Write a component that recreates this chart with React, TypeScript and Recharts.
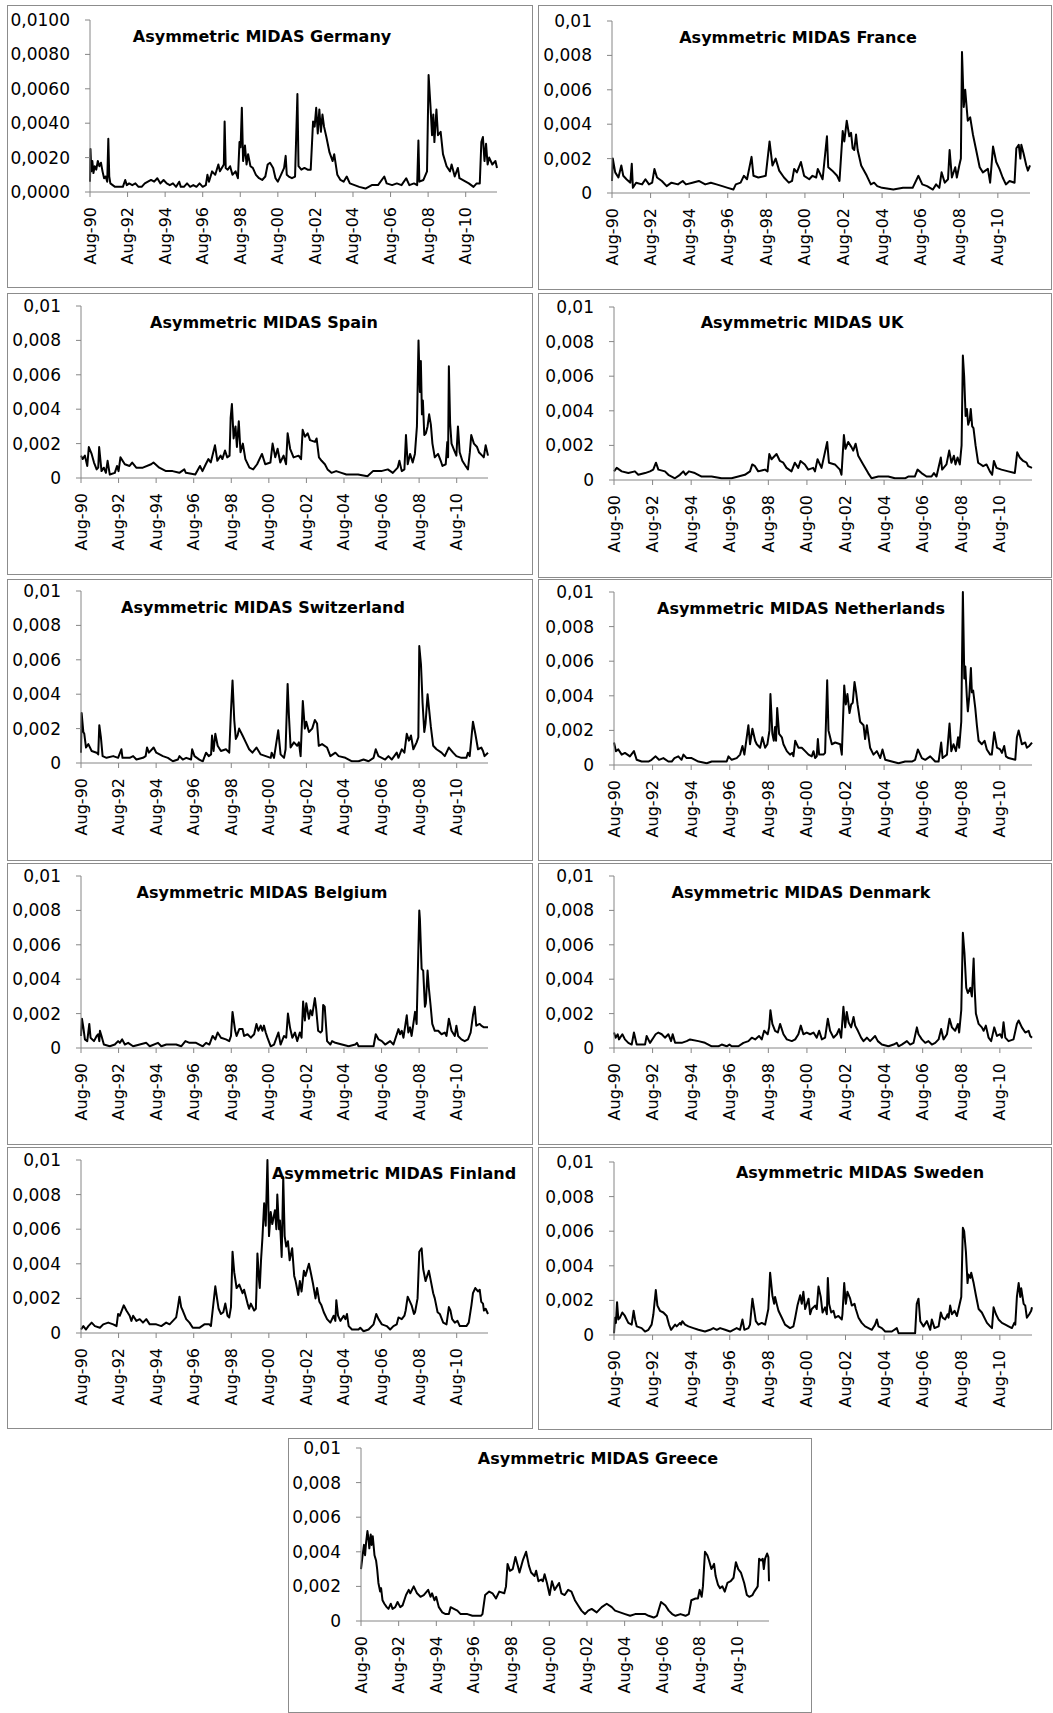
import React from "react";
import { LineChart, Line, XAxis, YAxis } from "recharts";

// months since Aug-90, value in thousandths
const germany: number[][] = [[0,0.6],[0.3,2.5],[0.8,1.2],[1.5,1.8],[2.2,1.1],[3,1.5],[4,1.3],[5,1.8],[6,1.5],[7,1.7],[8,1.2],[9,0.8],[10,0.9],[11,0.6],[11.7,3.1],[12.3,0.9],[13,0.5],[14.5,0.4],[16,0.3],[19,0.3],[21,0.3],[22.5,0.7],[23.5,0.4],[25,0.5],[27,0.4],[29,0.5],[31,0.3],[33,0.3],[35,0.5],[37,0.6],[39,0.7],[41,0.6],[43,0.8],[45,0.5],[47,0.7],[49,0.5],[51,0.4],[53,0.5],[55,0.3],[57,0.6],[58,0.3],[60,0.3],[62,0.5],[64,0.3],[66,0.4],[68,0.3],[70,0.5],[72,0.3],[74,0.4],[75,1.0],[76,0.6],[78,1.2],[80,1.0],[82,1.6],[83,1.2],[85.5,1.6],[86,4.1],[86.7,1.4],[88,1.3],[89.5,1.5],[91,1.0],[93,1.2],[94.5,0.8],[95.5,2.9],[96.2,2.6],[97,4.9],[97.8,1.8],[99,2.7],[100,1.6],[101,2.2],[102.5,1.5],[104,1.4],[106,1.0],[108,0.8],[110,0.7],[112,0.9],[113.5,1.6],[115,1.7],[117,1.4],[118.5,0.8],[120,0.6],[122,1.0],[124,1.4],[125,2.1],[125.7,1.0],[127,0.9],[129,0.8],[131,0.9],[132.5,5.7],[133.2,1.5],[135,1.3],[137,1.4],[139,1.3],[141,1.3],[142.5,4.1],[143.5,3.8],[144.5,4.9],[145.5,3.4],[146.5,4.8],[147.5,3.5],[148.5,4.5],[149.5,3.8],[151,3.2],[153,2.3],[155,1.8],[156,2.2],[158,1.0],[160,0.7],[162,0.6],[164,0.9],[166,0.5],[169,0.4],[172,0.3],[176,0.2],[180,0.4],[184,0.4],[188,0.9],[189.5,0.5],[193,0.4],[196,0.5],[199,0.4],[202,0.8],[204,0.4],[207,0.5],[209,0.4],[209.8,3.0],[210.4,0.6],[213,0.7],[215.3,1.2],[216.3,6.8],[217.5,5.0],[218.5,3.3],[219.3,4.5],[220,2.9],[221.3,4.8],[222.3,3.3],[224,3.5],[225.5,2.2],[227.8,1.5],[230,1.2],[231,1.6],[233,0.9],[235,1.4],[236,0.8],[240,0.6],[242,0.5],[245,0.3],[247,0.5],[249,0.5],[250,2.9],[251,3.2],[252,1.8],[253,2.8],[254,1.6],[255,2.0],[257,1.6],[259,1.8],[260,1.4]];

const france: number[][] = [[0,0.7],[0.5,2.0],[2,1.2],[4,0.9],[5.8,1.6],[7,1.0],[9,0.8],[11.4,0.6],[12.3,1.7],[13,0.3],[15,0.6],[18.7,0.5],[20.8,0.8],[23,0.5],[25,0.6],[26.4,1.4],[28,0.9],[31,0.7],[34,0.4],[37,0.6],[41,0.5],[44,0.7],[46,0.5],[50,0.6],[54,0.7],[58,0.5],[61.5,0.6],[65,0.5],[68.6,0.4],[72,0.3],[75.5,0.2],[77,0.5],[80,0.6],[82,1.0],[84,0.8],[86.8,2.1],[88,1.0],[91,0.9],[95.6,1.0],[98,3.0],[99.8,1.6],[101.8,2.0],[104,1.3],[107,0.9],[110,0.6],[112,0.7],[113.3,1.4],[115,1.2],[117.5,1.8],[119.5,1.0],[122.7,0.8],[124.7,1.0],[127,0.9],[128,1.4],[131,0.8],[133.7,3.3],[134.5,1.5],[137,1.3],[140,1.0],[141.5,0.7],[143.5,3.6],[144.5,3.0],[146,4.2],[147.6,3.3],[148.7,3.5],[149.7,2.6],[150.7,2.5],[151.8,3.4],[152.8,2.5],[155,1.6],[158.5,1.0],[161,0.5],[163,0.6],[165,0.4],[168,0.3],[175,0.2],[181,0.3],[187,0.3],[190.6,1.0],[193,0.5],[196,0.4],[199.6,0.2],[201.6,0.5],[203.6,0.3],[205,1.2],[207,0.6],[209,0.8],[210,2.5],[211.4,0.9],[213.5,1.5],[214.5,0.9],[216,1.6],[217,2.0],[217.7,8.2],[218.8,5.0],[219.7,6.0],[221.3,4.2],[222.8,4.4],[224.5,3.4],[226.5,2.5],[228.7,1.5],[230.7,1.2],[233.8,1.4],[235.2,0.6],[237,2.7],[239,1.8],[241,1.4],[243,0.9],[245,0.5],[247.3,0.7],[250.4,0.6],[251.5,2.6],[253,2.8],[254,2.0],[254.6,2.8],[256,2.3],[257.7,1.6],[258.7,1.3],[260,1.6]];

const spain: number[][] = [[0,1.3],[1,1.1],[2.5,1.3],[4,0.7],[5,1.8],[6.8,1.4],[8.3,0.9],[10,0.5],[11,0.6],[11.6,1.8],[13.1,0.4],[14.6,0.6],[15.9,0.3],[17,1.0],[18.4,0.2],[21.6,0.3],[23,0.7],[24,0.4],[25.2,1.2],[28,0.8],[31,0.7],[32.7,0.9],[35.3,0.6],[39.5,0.6],[44.8,0.8],[46.3,0.9],[50,0.6],[54.3,0.4],[58.5,0.4],[62.8,0.3],[66,0.5],[67,0.3],[73,0.2],[76,0.7],[77.6,0.4],[79.7,0.8],[81.4,1.1],[82.9,0.9],[85.6,1.9],[87.1,1.0],[89.2,1.3],[90.3,1.1],[92,1.6],[93.4,1.2],[94.9,1.3],[95.6,3.5],[96.4,4.3],[97.5,2.3],[98.7,3.0],[99.6,1.8],[100.8,3.3],[101.9,1.5],[103.4,2.0],[105,1.1],[107.6,0.6],[110,0.5],[112.5,0.8],[115.6,1.4],[117.7,0.8],[121,0.9],[122.4,2.0],[124.1,1.2],[125.6,1.7],[127.3,0.9],[129.4,1.3],[131,0.8],[132,2.6],[133.6,1.7],[135.8,1.2],[139,1.3],[140.6,1.1],[141.6,2.8],[143.1,2.4],[144.8,2.6],[146.3,2.2],[149.5,2.1],[150.5,2.3],[152,1.2],[153.7,1.0],[155.8,0.8],[157.5,0.5],[160,0.3],[163,0.4],[166.4,0.3],[169.5,0.2],[177,0.2],[183,0.1],[186.5,0.4],[191.8,0.4],[196,0.5],[199.2,0.3],[202.3,0.6],[203.4,1.0],[204.9,0.4],[206.6,0.5],[207.6,2.5],[208.7,0.8],[210.2,1.4],[211.9,0.9],[213.3,1.4],[214.6,3.0],[215.6,8.0],[216.5,5.0],[217.1,6.8],[217.8,3.7],[218.4,4.5],[219.3,2.5],[220.3,2.6],[221.4,3.0],[222.4,3.7],[223.5,3.1],[224.5,2.0],[226,1.2],[228.1,1.4],[229.8,1.0],[230.9,0.7],[233,0.8],[234,2.1],[234.5,1.2],[235,6.5],[235.8,3.2],[236.7,2.0],[238.4,1.6],[239.8,1.3],[240.8,3.0],[241.9,1.5],[243.6,1.0],[245.7,0.7],[247.2,0.5],[248.4,1.5],[249.3,2.5],[251,2.0],[253,1.8],[254.2,1.5],[256.3,1.3],[257.3,1.2],[258.5,1.9],[260,1.3]];

const uk: number[][] = [[0,0.5],[1.7,0.7],[4.8,0.5],[8.9,0.4],[13,0.5],[15.1,0.3],[19.3,0.4],[22.4,0.5],[24.4,0.6],[26.1,1.0],[27.6,0.6],[31.7,0.5],[33.8,0.3],[37.9,0.1],[41,0.3],[43.1,0.5],[44.5,0.3],[46.6,0.5],[50.3,0.4],[54.5,0.2],[60.7,0.2],[66.9,0.1],[73.1,0.1],[77.3,0.2],[81.4,0.3],[84.6,0.5],[86,0.9],[87.7,0.8],[89.7,0.5],[93.9,0.6],[95.5,0.5],[96.6,1.5],[98,1.2],[101.1,1.5],[103.2,1.1],[105.3,1.0],[107.3,0.7],[110.4,0.5],[112.5,1.0],[114.6,0.7],[116,1.1],[118.7,0.9],[120.8,0.6],[123.9,0.7],[125,0.5],[126.6,1.2],[129.1,0.7],[132.6,2.2],[133.7,1.0],[137.4,0.9],[140.5,0.6],[141.5,0.3],[143,2.6],[144,1.8],[145.7,2.2],[147.7,1.9],[148.8,1.7],[150.3,2.1],[151.9,1.4],[155,0.9],[158.1,0.4],[160.2,0.1],[164.4,0.2],[170.6,0.2],[174.7,0.1],[181,0.1],[183,0.2],[187.1,0.2],[188.8,0.6],[191.3,0.4],[194.4,0.2],[197.5,0.2],[199,0.4],[200.6,0.2],[203.3,1.3],[204.1,0.6],[206.8,0.9],[208.5,1.7],[209.9,1.0],[211.4,1.4],[212.4,0.9],[213.7,1.3],[215.1,0.9],[216.2,2.0],[217,7.2],[217.8,6.0],[218.7,3.7],[219.5,4.1],[220.3,3.2],[221.3,3.5],[221.9,4.1],[222.8,3.1],[223.6,3.0],[224.9,2.0],[226.5,1.0],[229.6,0.8],[231.7,0.9],[233.8,0.5],[235.2,0.3],[236.3,1.1],[237.9,0.7],[241,0.6],[245.2,0.5],[249.3,0.4],[250.8,1.6],[252.4,1.3],[254.5,1.1],[256.6,1.0],[257.6,0.8],[260,0.7]];

const switzerland: number[][] = [[0,0.6],[0.4,2.9],[1.5,1.8],[2.1,1.7],[3.2,0.9],[4.7,1.1],[6.8,0.7],[10,0.6],[11,0.5],[11.7,2.2],[12.7,1.5],[13.8,0.4],[16.3,0.3],[20.6,0.4],[23.7,0.3],[25.8,0.8],[26.5,0.3],[31.1,0.3],[33.3,0.4],[35.4,0.2],[39.6,0.3],[41.3,0.4],[42.2,0.9],[43.4,0.6],[46.4,0.9],[48.1,0.6],[52.3,0.4],[55.5,0.3],[58.7,0.1],[61.9,0.2],[62.9,0.4],[65,0.2],[67.2,0.3],[70.3,0.2],[71,0.8],[72.5,0.4],[75.6,0.2],[77.8,0.1],[79.9,0.6],[81.6,0.4],[83.1,0.5],[83.7,1.6],[84.7,0.7],[85.8,1.7],[87.3,1.0],[89.4,0.7],[92.6,0.8],[94.7,0.6],[95.8,3.0],[96.8,4.8],[97.9,2.5],[98.9,1.4],[100,1.6],[101,2.0],[103.2,1.6],[105.3,1.2],[107.4,0.8],[109.5,0.6],[112.1,0.9],[114.8,0.5],[118,0.4],[121.2,0.3],[121.8,0.6],[123.3,0.3],[126,1.9],[127.5,0.5],[129.7,0.3],[130.7,0.8],[132,4.6],[132.8,2.8],[133.9,0.9],[136,1.2],[138.1,1.0],[139.2,1.2],[140.3,0.4],[141.7,3.6],[143,2.0],[143.9,2.4],[145.6,1.8],[147.7,2.0],[149.4,2.5],[150.8,2.3],[151.9,1.0],[154,1.1],[157.2,0.9],[159.3,0.4],[162.5,0.6],[164.6,0.4],[168.9,0.3],[173.1,0.1],[177.3,0.1],[180.5,0.2],[183.7,0.1],[186.9,0.3],[188.3,0.8],[190,0.4],[194.3,0.2],[196.4,0.4],[198.5,0.2],[201.7,0.6],[202.8,0.3],[204.9,0.8],[206.6,0.6],[208.1,1.7],[209.5,1.3],[210.8,1.6],[212.3,0.8],[214.4,1.2],[215.5,1.5],[216.1,6.8],[217.2,5.7],[218.2,3.5],[219.3,1.8],[220.1,2.3],[221.4,4.0],[222.5,3.0],[223.5,2.1],[225,1.0],[227.1,0.8],[230.3,0.6],[232.4,0.4],[235,0.9],[237.7,0.6],[239.8,0.4],[243,0.3],[246.2,0.3],[247.2,0.6],[248.3,0.4],[250.4,2.4],[251.9,1.7],[253.6,0.8],[255.7,0.9],[256.8,0.7],[257.8,0.4],[260,0.6]];

const netherlands: number[][] = [[0,1.3],[1.2,0.8],[2.7,0.9],[4.8,0.6],[6.8,0.7],[9.9,0.5],[12.4,0.8],[14.1,0.3],[17.2,0.2],[21.4,0.2],[23.4,0.3],[25.9,0.5],[28,0.3],[30.7,0.4],[33.8,0.2],[35.9,0.2],[37.6,0.4],[40,0.5],[42,0.3],[43.2,0.6],[45.2,0.4],[48.3,0.4],[52.5,0.2],[57.7,0.1],[60.8,0.2],[67,0.2],[70.1,0.2],[71.2,0.5],[73.2,0.3],[76.3,0.4],[78.4,0.6],[79.9,1.1],[81.1,0.6],[83.6,2.3],[84.6,1.2],[86.1,2.1],[87.8,1.4],[88.8,1.2],[90.9,1.0],[92.3,1.6],[94,1.0],[95.4,1.2],[96.7,2.0],[97.3,4.1],[98.5,1.8],[99.4,1.4],[100.2,2.2],[100.8,1.4],[101.5,3.3],[102.7,1.8],[104.4,1.6],[105.4,1.2],[107.5,0.8],[109.5,0.6],[111,0.7],[111.6,0.5],[112.7,1.4],[114.7,1.0],[116.8,1.0],[118.9,0.8],[121,0.6],[123,0.5],[124.1,0.8],[125.1,0.4],[126.1,0.5],[126.8,1.5],[127.6,0.6],[130.3,0.6],[131.3,0.7],[132.6,4.9],[133.4,2.0],[135.5,1.2],[137.6,1.3],[140.7,1.2],[141.7,0.6],[143.2,4.6],[144.2,3.5],[145.2,4.1],[146.5,3.0],[147.5,3.5],[148.5,3.6],[149.6,4.8],[150.6,4.2],[151.5,3.5],[153.1,2.5],[155.2,2.3],[156.2,1.5],[157.3,2.3],[159.3,1.0],[161.4,0.6],[163.5,0.8],[165.6,0.4],[167,0.9],[168.7,0.3],[172.8,0.2],[177,0.1],[181.1,0.2],[185.3,0.2],[187.3,0.3],[189,0.9],[191.5,0.4],[193.6,0.3],[196.7,0.5],[199.8,0.2],[201.9,0.2],[203.5,1.3],[204.4,0.4],[207.1,0.6],[208.7,2.4],[209.8,0.8],[211.2,1.2],[212.7,0.8],[214,1.6],[214.7,1.0],[216,2.5],[217,10.0],[217.9,5.0],[218.5,5.7],[219.5,3.9],[220.1,3.1],[221,4.0],[222,5.6],[222.6,4.2],[223.4,4.3],[224.7,3.3],[225.7,2.3],[226.8,1.4],[228.8,1.2],[230.5,1.4],[231.9,0.9],[234,0.6],[235,0.6],[236.5,1.9],[238.2,1.0],[240.2,0.9],[241.3,0.7],[242.7,1.1],[243.8,0.5],[245.4,0.4],[249.6,0.3],[250.6,1.6],[251.7,2.0],[253.7,1.2],[255.8,1.3],[256.8,1.0],[258.3,1.1],[260,1.3]];

const belgium: number[][] = [[0,0.7],[0.6,1.7],[1.5,1.2],[2.5,0.5],[4,0.4],[5.3,1.4],[6.1,0.6],[8.3,0.4],[10,0.7],[11,0.8],[11.7,0.4],[12.1,1.0],[13.1,0.7],[14.6,0.2],[18.4,0.1],[21.6,0.2],[23.7,0.4],[24.8,0.3],[26.3,0.5],[28,0.2],[30.1,0.3],[33.3,0.1],[37.5,0.2],[41.7,0.3],[43.9,0.1],[49.2,0.3],[51.3,0.1],[54.5,0.2],[60.8,0.2],[64,0.1],[66.7,0.4],[69.3,0.3],[73.5,0.3],[75.6,0.2],[77.8,0.1],[79.9,0.3],[82,0.2],[84.1,0.7],[85.8,0.5],[87.3,0.9],[89.4,0.6],[92.6,0.5],[94.7,0.4],[95.8,0.7],[96.8,2.1],[98.5,1.0],[99.4,0.7],[101.1,1.1],[103.2,1.1],[104.2,0.7],[106.4,0.8],[108.5,0.6],[110.6,0.8],[112.1,1.4],[113.3,1.0],[114.8,1.3],[115.9,1.0],[116.9,1.3],[118,0.9],[119.1,0.6],[121.2,0.1],[123.3,0.2],[126.1,0.9],[127.5,0.2],[129.7,0.7],[131.1,0.6],[132.2,2.0],[133.5,1.2],[135,0.6],[136.7,0.9],[138.1,0.4],[139.8,0.9],[140.9,0.6],[141.9,2.7],[143,1.6],[143.9,2.6],[145.6,1.7],[146.6,2.2],[147.7,1.9],[149.4,2.9],[150.2,2.3],[151.5,1.0],[153,0.9],[154,1.0],[154.7,2.5],[155.7,2.4],[157.2,0.4],[159.3,0.2],[160.4,0.4],[162.5,0.3],[166.7,0.2],[171,0.1],[175.2,0.2],[176.3,0.3],[177.3,0.1],[183.7,0.1],[186.9,0.1],[188.3,0.8],[190.1,0.5],[192.2,0.4],[194.3,0.2],[197.5,0.4],[199.6,0.2],[202.8,1.1],[203.8,0.8],[204.9,1.0],[206,0.6],[208.1,1.9],[209.1,0.9],[210.2,1.2],[211.2,0.7],[213.4,2.1],[214.4,1.4],[216.1,8.0],[216.5,7.5],[217.6,4.6],[218.6,4.5],[219.7,2.4],[220.3,2.6],[221.4,4.5],[222.2,3.5],[223.3,2.5],[224.4,1.4],[226,1.0],[228.2,1.0],[230.3,0.8],[232.4,0.9],[233.5,0.7],[235,1.7],[236.7,1.0],[238.8,0.7],[239.8,1.3],[240.9,0.7],[243,0.5],[245.1,0.4],[247.2,0.5],[248.9,0.9],[250.4,1.9],[251.5,2.4],[252.5,1.3],[254.7,1.4],[255.7,1.3],[257.4,1.2],[260,1.2]];

const denmark: number[][] = [[0,0.9],[1,0.6],[2.3,0.8],[3.1,0.5],[5.2,0.8],[6.8,0.5],[8.9,0.3],[11,0.2],[12.4,0.9],[14.1,0.2],[17.2,0.2],[19.3,0.2],[20.3,0.7],[22.4,0.3],[24.5,0.6],[25.9,0.8],[27.6,0.9],[29.7,0.8],[31.7,0.6],[33.8,0.8],[35.5,0.4],[36.5,0.8],[38,0.3],[42.1,0.3],[45.2,0.4],[47.3,0.5],[52.5,0.4],[56.6,0.3],[60.8,0.1],[64.9,0.1],[67,0.2],[70.1,0.1],[71.8,0.2],[73.2,0.1],[77.4,0.1],[80.5,0.3],[83.6,0.4],[85.7,0.6],[87.8,0.5],[90.2,0.7],[91.9,0.5],[93.4,1.0],[95.6,0.8],[96.5,1.2],[97.3,2.2],[98.5,1.4],[100.2,1.0],[101.9,0.9],[103.3,1.4],[105.4,0.8],[107.5,0.5],[110.6,0.4],[112.7,0.5],[114.7,0.8],[116.2,1.3],[117.8,0.8],[119.9,0.9],[122,0.8],[124.1,0.9],[126.1,0.6],[127.6,1.0],[129.3,0.5],[131.3,0.6],[133,1.7],[134.4,1.0],[136.5,0.6],[138.6,0.8],[140,1.1],[141.3,0.6],[142.7,2.4],[143.8,1.2],[144.8,2.1],[145.9,1.5],[147.5,1.2],[149,1.8],[150,1.3],[151.7,1.0],[153.7,0.6],[155.2,0.4],[157.3,0.6],[159.3,0.4],[162.4,0.7],[164.1,0.4],[166.6,0.2],[170.7,0.1],[173.9,0.2],[175.9,0.3],[177,0.1],[179,0.2],[182.2,0.4],[184.2,0.2],[186.3,0.3],[188.4,1.2],[189.4,0.8],[191.5,0.5],[193.6,0.3],[195.6,0.4],[197.7,0.2],[199.8,0.3],[201.9,0.5],[203.5,1.1],[205,0.5],[207.1,0.8],[208.7,1.7],[210.2,1.2],[212.2,1.0],[213.9,1.4],[214.7,0.9],[216,2.2],[217,6.7],[218,5.5],[219.1,3.5],[220.1,3.2],[221.6,3.5],[222.6,3.0],[223.7,5.2],[224.3,3.5],[225.1,2.0],[226.8,1.4],[228.8,1.2],[229.9,1.0],[231.3,1.3],[233,0.6],[234.6,0.4],[236.5,1.2],[238.2,0.7],[240.2,0.8],[241.3,0.6],[242.3,1.5],[243.4,0.6],[245.4,0.4],[248.5,0.5],[250.6,1.4],[251.7,1.6],[253.7,1.2],[255.8,0.9],[257.9,1.0],[258.9,0.7],[260,0.6]];

const finland: number[][] = [[0,0.2],[1.5,0.4],[3.2,0.2],[4.7,0.4],[6.8,0.6],[8.9,0.4],[12.1,0.3],[14.2,0.5],[17.4,0.6],[20.6,0.5],[22.7,0.4],[23.7,1.1],[24.8,1.0],[27.3,1.6],[29,1.3],[31.1,1.0],[32.2,0.7],[33.3,1.0],[35.4,0.7],[37.5,0.8],[39.6,0.6],[41.7,0.8],[43.9,0.5],[48.1,0.5],[51.3,0.4],[54.4,0.6],[56.6,0.5],[58.7,0.7],[60.8,0.9],[61.9,1.5],[62.9,2.1],[64,1.5],[65,1.3],[67.2,0.8],[69.3,0.6],[71.4,0.3],[75.6,0.3],[78.8,0.5],[82,0.5],[83,0.4],[85.8,2.7],[86.9,2.0],[87.9,1.4],[89.4,1.1],[90.9,1.2],[92.2,1.7],[93.6,1.0],[94.7,0.9],[95.8,1.5],[96.8,4.7],[97.9,3.5],[99.4,2.6],[101.1,2.8],[103.2,2.3],[104.2,2.5],[106.4,1.7],[107.4,1.4],[108.5,1.7],[110.6,1.3],[111.7,1.4],[112.1,2.5],[112.7,4.6],[113.8,3.0],[114.2,2.6],[115,4.2],[115.9,5.5],[117,7.5],[118,6.2],[119.1,10.0],[120.1,5.6],[121.2,7.0],[122.2,6.3],[123.9,7.1],[124.8,6.0],[125.4,8.0],[126.5,6.0],[127.1,6.5],[128.2,4.4],[129.2,9.0],[130.1,5.6],[131.1,5.0],[132.2,5.3],[133.3,4.2],[134.9,4.9],[136.2,3.3],[137.1,3.0],[138.8,2.2],[139.8,3.0],[140.9,2.4],[142.4,3.6],[143.4,3.3],[145.6,4.0],[147,3.4],[148.3,2.8],[149.8,2.0],[150.8,2.6],[152.3,1.8],[153.6,1.6],[155.1,1.2],[157.2,0.8],[159.3,0.6],[161.4,1.0],[162.5,0.7],[163.1,1.9],[164.2,1.0],[165.7,0.7],[167.8,1.0],[168.9,0.8],[169.9,1.1],[171,0.4],[173.1,0.2],[177.3,0.2],[178.4,0.3],[180.5,0.1],[183.7,0.2],[186.9,0.5],[188.6,1.1],[190.1,0.8],[192.2,0.5],[195.3,0.4],[197.5,0.2],[199.6,0.4],[201.7,0.5],[202.8,0.9],[204.9,0.8],[206.6,1.0],[207.4,1.3],[208.7,2.1],[210.2,1.8],[211.2,1.6],[212.7,1.1],[213.4,1.2],[215,2.0],[216.1,4.7],[217.6,4.9],[218.6,3.7],[220.1,3.0],[222.2,3.6],[223.3,3.1],[225,2.3],[226,2.0],[227.8,1.2],[229.2,1.1],[231.4,0.6],[233.5,0.5],[235,1.5],[236,1.3],[237.1,0.8],[238.8,0.6],[240.5,0.7],[242,0.4],[246.2,0.4],[247.7,0.6],[249.4,1.6],[250.4,2.3],[251.9,2.6],[253.6,2.4],[254.7,2.5],[255.7,1.8],[256.8,1.7],[257.4,1.3],[258.5,1.4],[260,1.1]];

const sweden: number[][] = [[0,0.1],[0.6,1.0],[1.2,0.7],[1.9,1.9],[2.7,0.9],[3.7,1.0],[5.2,1.3],[6.8,1.1],[8.9,0.7],[11,0.6],[12.2,1.4],[13.1,0.9],[14.1,0.5],[17.2,0.4],[19.3,0.2],[21.4,0.3],[23.4,0.6],[24.5,1.2],[26,2.6],[27,1.7],[28.6,1.4],[30.7,1.3],[32.8,1.1],[34.2,0.6],[35.5,0.3],[38,0.6],[39,0.5],[41.1,0.7],[41.7,0.6],[42.5,0.8],[44.2,0.6],[46.3,0.5],[49.4,0.4],[52.5,0.3],[56.6,0.2],[59.8,0.3],[61.8,0.4],[63.9,0.3],[66,0.4],[69.1,0.3],[72.2,0.2],[76.3,0.4],[78.4,0.3],[79.9,0.9],[81.1,0.3],[83.6,0.4],[84.6,0.6],[86.1,2.1],[87.1,1.5],[88.2,0.8],[89.8,0.6],[91.9,0.7],[94,0.6],[96,1.5],[97.1,3.6],[98.5,2.3],[99.6,1.8],[100.2,2.2],[101.2,1.8],[102.3,1.4],[104.4,1.0],[106.4,0.6],[109.5,0.4],[111.6,0.5],[112.7,1.0],[114.1,1.7],[115.8,2.3],[116.8,1.8],[117.8,2.5],[118.9,1.5],[121,2.1],[122,1.2],[123,1.5],[125.1,1.7],[126.1,1.5],[127.2,2.8],[128.6,2.2],[129.7,1.3],[131.3,1.6],[132.4,1.2],[133,3.3],[133.8,1.8],[135.1,1.3],[136.5,1.4],[137.6,1.0],[139.6,1.1],[141.7,0.9],[142.1,1.2],[143.2,3.0],[144.2,1.8],[145.2,2.5],[146.9,2.1],[147.9,1.7],[149.6,1.8],[150.4,1.5],[152.1,1.0],[154.1,0.7],[156.2,0.5],[158.3,0.4],[160.4,0.3],[162.4,0.6],[163.5,0.9],[164.5,0.5],[166.6,0.4],[168.7,0.2],[172.8,0.2],[175.9,0.4],[177,0.1],[181.1,0.1],[187.3,0.1],[188.3,1.8],[189.4,2.1],[190.5,0.8],[192.5,0.5],[194.6,0.8],[196.7,0.3],[197.7,0.9],[199.4,0.4],[201.9,0.5],[203.3,1.3],[204.4,1.0],[206,0.9],[207.5,1.2],[208.1,1.0],[209.1,1.7],[210.2,1.2],[211.8,1.4],[213.3,1.1],[214.3,1.5],[216,2.2],[217,6.2],[217.8,6.0],[218.9,4.8],[219.9,3.0],[220.5,3.5],[221.6,3.3],[222.2,3.6],[223.7,3.0],[225.1,2.3],[226.8,1.5],[228.8,1.3],[230.9,0.9],[232,0.7],[234,0.5],[235.1,0.4],[236.1,1.6],[237.6,1.2],[239.2,0.9],[241.3,0.7],[243.4,0.6],[245.4,0.5],[247.5,0.4],[249,0.7],[249.6,0.6],[250.6,2.2],[251.7,3.0],[252.7,2.2],[253.3,2.7],[254.8,1.8],[255.8,1.7],[256.8,1.0],[258.3,1.2],[259.5,1.4],[260,1.6]];

const greece: number[][] = [[0,3.0],[0.9,3.7],[1.9,4.4],[2.6,3.8],[3.2,4.5],[4.1,5.2],[4.7,4.8],[5.3,4.2],[6.2,5.0],[6.8,4.4],[7.5,4.9],[8.6,3.8],[9.6,3.5],[10.3,3.0],[11.1,2.2],[12.2,1.7],[12.8,1.9],[13.7,1.2],[14.9,1.0],[16.4,0.8],[17.5,0.7],[19,1.0],[20.1,0.7],[21.8,0.8],[23.3,1.1],[25,0.8],[26.5,0.9],[28.7,1.5],[30.4,1.8],[31.4,1.6],[33.6,2.0],[35.7,1.6],[37.9,1.4],[40,1.5],[42.8,1.8],[44.3,1.4],[45.3,1.6],[46.8,1.2],[47.9,1.4],[49.6,0.8],[51.8,0.5],[53.9,0.4],[56,0.4],[57.1,0.8],[59.2,0.7],[61.4,0.6],[63.5,0.4],[67.8,0.4],[71,0.3],[76.4,0.3],[77.4,0.4],[79.1,1.5],[81.7,1.7],[83.8,1.6],[86,1.3],[88.1,1.7],[91.3,1.6],[92.4,2.0],[93.4,3.3],[94.9,2.9],[96.7,3.0],[98.4,3.7],[99.9,3.2],[101,2.8],[103.1,3.5],[105.2,4.0],[107,3.2],[108.4,2.8],[110.6,2.6],[111.6,2.9],[113.1,2.3],[114.9,2.4],[115.9,2.3],[117,2.7],[118.5,2.2],[120.2,1.5],[121.7,2.3],[123.4,1.8],[126.2,2.2],[127.7,1.6],[129.8,1.5],[132,1.8],[134.1,1.7],[136.3,1.2],[138.4,0.9],[140.5,0.6],[142.7,0.4],[144.8,0.6],[147,0.7],[150.2,0.5],[153.4,0.8],[156.6,1.0],[159.8,0.8],[161.9,0.6],[165.1,0.5],[168.3,0.4],[171.5,0.3],[174.7,0.4],[177.9,0.4],[181.2,0.4],[183.3,0.3],[186.5,0.2],[188.6,0.3],[191.2,1.1],[194,0.9],[196.1,0.6],[198.3,0.4],[200.4,0.3],[203.6,0.4],[206.8,0.3],[208.9,0.4],[210.5,1.2],[213.2,1.3],[214.7,1.3],[215.8,1.8],[217.1,1.4],[217.9,2.0],[219.2,4.0],[220.7,3.8],[221.8,3.5],[223.3,3.0],[225,3.3],[226,2.6],[227.5,2.1],[228.8,1.9],[230.3,2.0],[231.8,1.7],[233.5,2.2],[235.6,2.3],[237.4,2.5],[238.9,3.4],[240.4,3.0],[242.1,2.8],[244.2,2.2],[245.9,1.5],[247.4,1.4],[249.5,1.5],[250.6,1.7],[252.1,1.9],[252.8,2.0],[253.7,3.6],[254.9,3.5],[256,3.6],[256.7,3.0],[257.5,3.6],[258.8,3.9],[259.6,3.7],[260,2.3]];

const xTicks = [0, 24, 48, 72, 96, 120, 144, 168, 192, 216, 240];
const xTickLabels = ["Aug-90", "Aug-92", "Aug-94", "Aug-96", "Aug-98", "Aug-00", "Aug-02", "Aug-04", "Aug-06", "Aug-08", "Aug-10"];
const yTicks = [0, 0.002, 0.004, 0.006, 0.008, 0.01];

interface IPanel {
  title: string;
  data: number[][];
  box: number[]; // left, top, width, height
  plot: number[]; // x0, y0, x1, y1
  titleAt: number[];
  fourDecimals?: boolean;
}

const panels: IPanel[] = [
  { title: "Asymmetric MIDAS Germany", data: germany, box: [7, 5, 526, 283], plot: [90, 20, 497, 192], titleAt: [262, 37], fourDecimals: true },
  { title: "Asymmetric MIDAS France", data: france, box: [538, 5, 514, 285], plot: [612, 21, 1030, 193], titleAt: [798, 38] },
  { title: "Asymmetric MIDAS Spain", data: spain, box: [7, 293, 526, 282], plot: [81, 306, 488, 478], titleAt: [264, 323] },
  { title: "Asymmetric MIDAS UK", data: uk, box: [538, 293, 514, 285], plot: [614, 307, 1032, 480], titleAt: [802, 323] },
  { title: "Asymmetric MIDAS Switzerland", data: switzerland, box: [7, 579, 526, 282], plot: [81, 591, 488, 763], titleAt: [263, 608] },
  { title: "Asymmetric MIDAS Netherlands", data: netherlands, box: [538, 579, 514, 282], plot: [614, 592, 1032, 765], titleAt: [801, 609] },
  { title: "Asymmetric MIDAS Belgium", data: belgium, box: [7, 863, 526, 282], plot: [81, 876, 488, 1048], titleAt: [262, 893] },
  { title: "Asymmetric MIDAS Denmark", data: denmark, box: [538, 863, 514, 282], plot: [614, 876, 1032, 1048], titleAt: [801, 893] },
  { title: "Asymmetric MIDAS Finland", data: finland, box: [7, 1147, 526, 282], plot: [81, 1160, 488, 1333], titleAt: [394, 1174] },
  { title: "Asymmetric MIDAS Sweden", data: sweden, box: [538, 1147, 514, 283], plot: [614, 1162, 1032, 1335], titleAt: [860, 1173] },
  { title: "Asymmetric MIDAS Greece", data: greece, box: [288, 1438, 524, 275], plot: [361, 1448, 769, 1621], titleAt: [598, 1459] },
];

const AXIS_GREY = "#868686";
const FONT = "'DejaVu Sans', sans-serif";

const DateTick = (props: any) => {
  const { x, y, payload } = props;
  return (
    <text
      x={x}
      y={y}
      transform={`rotate(-90, ${x}, ${y})`}
      textAnchor="end"
      dominantBaseline="central"
      fontSize={16}
      fontFamily={FONT}
      fill="#000"
    >
      {xTickLabels[xTicks.indexOf(payload.value)]}
    </text>
  );
};

const formatValue = (four?: boolean) => (v: number) => {
  if (four) return v.toFixed(4).replace(".", ",");
  if (v === 0) return "0";
  return String(Number(v.toFixed(3))).replace(".", ",");
};

const Panel = ({ p }: { p: IPanel }) => {
  const [left, top, w, h] = p.box;
  const [x0, y0, x1, y1] = p.plot;
  const rows = p.data.map(([t, v]) => ({ t, v: v / 1000 }));
  return (
    <>
      <div
        style={{
          position: "absolute",
          left,
          top,
          width: w - 2,
          height: h - 2,
          border: "1px solid #8c8c8c",
        }}
      />
      <div style={{ position: "absolute", left, top }}>
        <LineChart
          width={w}
          height={h}
          data={rows}
          margin={{ top: y0 - top, right: left + w - x1, bottom: 0, left: 0 }}
        >
          <XAxis
            type="number"
            dataKey="t"
            domain={[0, 260]}
            ticks={xTicks}
            interval={0}
            height={top + h - y1}
            tickSize={5}
            tickMargin={10}
            axisLine={{ stroke: AXIS_GREY }}
            tickLine={{ stroke: AXIS_GREY }}
            tick={<DateTick />}
          />
          <YAxis
            type="number"
            domain={[0, 0.01]}
            ticks={yTicks}
            interval={0}
            width={x0 - left}
            tickSize={5}
            tickMargin={15}
            axisLine={{ stroke: AXIS_GREY }}
            tickLine={{ stroke: AXIS_GREY }}
            tick={{ fontSize: 17, fontFamily: FONT, fill: "#000" }}
            tickFormatter={formatValue(p.fourDecimals)}
          />
          <Line
            type="linear"
            dataKey="v"
            stroke="#000"
            strokeWidth={2}
            strokeLinejoin="round"
            dot={false}
            isAnimationActive={false}
          />
        </LineChart>
      </div>
      <div
        style={{
          position: "absolute",
          left: p.titleAt[0] - 200,
          top: p.titleAt[1] - 10,
          width: 400,
          lineHeight: "20px",
          textAlign: "center",
          fontFamily: FONT,
          fontWeight: "bold",
          fontSize: 16,
          color: "#000",
          whiteSpace: "nowrap",
        }}
      >
        {p.title}
      </div>
    </>
  );
};

export default function App() {
  return (
    <div
      style={{
        position: "absolute",
        left: 0,
        top: 0,
        width: 1053,
        height: 1713,
        background: "#fff",
        overflow: "hidden",
      }}
    >
      {panels.map((p) => (
        <Panel key={p.title} p={p} />
      ))}
    </div>
  );
}
